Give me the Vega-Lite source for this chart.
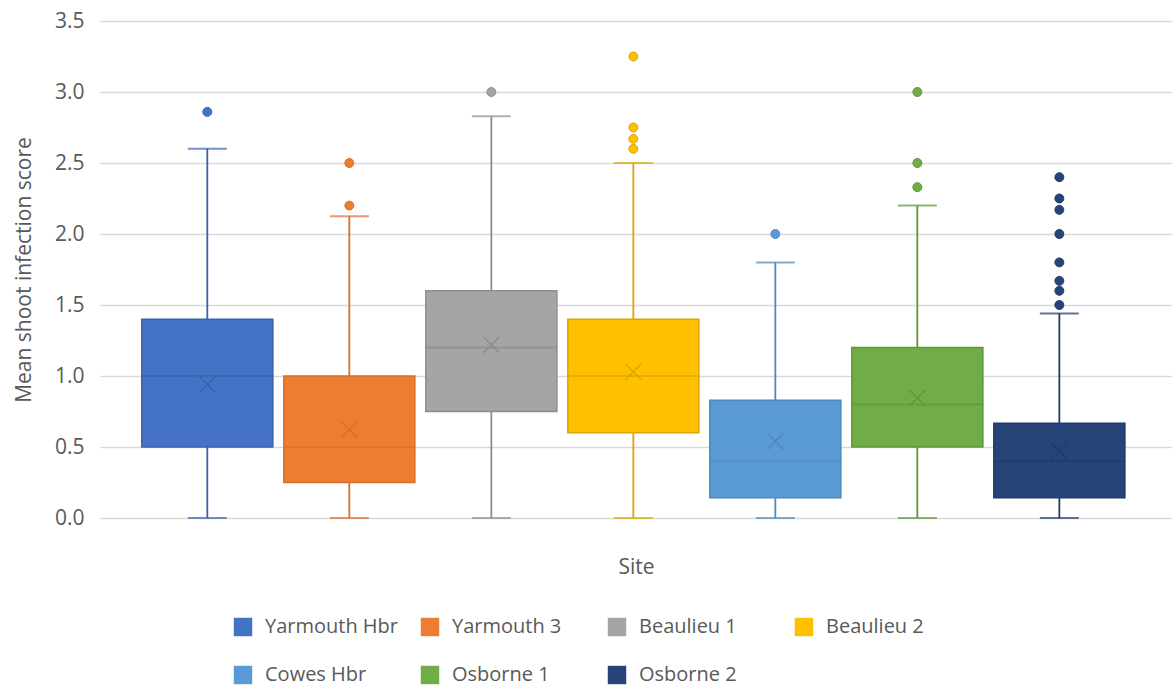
{
  "$schema": "https://vega.github.io/schema/vega-lite/v6.json",
  "width": 1072,
  "height": 497,
  "autosize": "none",
  "padding": {"left": 100, "top": 21, "right": 0, "bottom": 168},
  "background": "white",
  "config": {
    "font": "Open Sans",
    "view": {"stroke": null},
    "axis": {"labelColor": "#595959", "titleColor": "#595959", "titleFontWeight": "normal", "labelFont": "Open Sans", "titleFont": "Open Sans"},
    "legend": {"labelColor": "#595959", "labelFont": "Open Sans"}
  },
  "datasets": {
    "boxes": [
      {"site": "Yarmouth Hbr", "lo": 0, "q1": 0.5, "median": 1.0, "q3": 1.4, "hi": 2.6, "mean": 0.94},
      {"site": "Yarmouth 3", "lo": 0, "q1": 0.25, "median": 0.5, "q3": 1.0, "hi": 2.125, "mean": 0.62},
      {"site": "Beaulieu 1", "lo": 0, "q1": 0.75, "median": 1.2, "q3": 1.6, "hi": 2.83, "mean": 1.22},
      {"site": "Beaulieu 2", "lo": 0, "q1": 0.6, "median": 1.0, "q3": 1.4, "hi": 2.5, "mean": 1.03},
      {"site": "Cowes Hbr", "lo": 0, "q1": 0.143, "median": 0.4, "q3": 0.83, "hi": 1.8, "mean": 0.54},
      {"site": "Osborne 1", "lo": 0, "q1": 0.5, "median": 0.8, "q3": 1.2, "hi": 2.2, "mean": 0.845},
      {"site": "Osborne 2", "lo": 0, "q1": 0.143, "median": 0.4, "q3": 0.667, "hi": 1.44, "mean": 0.47}
    ],
    "outliers": [
      {"site": "Yarmouth Hbr", "score": 2.86},
      {"site": "Yarmouth 3", "score": 2.2},
      {"site": "Yarmouth 3", "score": 2.5},
      {"site": "Beaulieu 1", "score": 3.0},
      {"site": "Beaulieu 2", "score": 2.6},
      {"site": "Beaulieu 2", "score": 2.67},
      {"site": "Beaulieu 2", "score": 2.75},
      {"site": "Beaulieu 2", "score": 3.25},
      {"site": "Cowes Hbr", "score": 2.0},
      {"site": "Osborne 1", "score": 2.33},
      {"site": "Osborne 1", "score": 2.5},
      {"site": "Osborne 1", "score": 3.0},
      {"site": "Osborne 2", "score": 1.5},
      {"site": "Osborne 2", "score": 1.6},
      {"site": "Osborne 2", "score": 1.67},
      {"site": "Osborne 2", "score": 1.8},
      {"site": "Osborne 2", "score": 2.0},
      {"site": "Osborne 2", "score": 2.17},
      {"site": "Osborne 2", "score": 2.25},
      {"site": "Osborne 2", "score": 2.4}
    ]
  },
  "encoding": {
    "x": {
      "field": "site",
      "type": "nominal",
      "sort": ["Yarmouth Hbr", "Yarmouth 3", "Beaulieu 1", "Beaulieu 2", "Cowes Hbr", "Osborne 1", "Osborne 2"],
      "scale": {"paddingInner": 0.077, "paddingOuter": 0.313, "align": 0.47},
      "axis": {"title": "Site", "labels": false, "ticks": false, "domain": false, "titleFontSize": 21, "titlePadding": 38}
    }
  },
  "layer": [
    {
      "data": {"name": "boxes"},
      "mark": {"type": "rule", "strokeWidth": 1.8},
      "encoding": {
        "y": {
          "field": "lo",
          "type": "quantitative",
          "scale": {"domain": [0, 3.5], "nice": false},
          "axis": {
            "title": "Mean shoot infection score",
            "values": [0, 0.5, 1, 1.5, 2, 2.5, 3, 3.5],
            "format": ".1f",
            "labelFontSize": 21,
            "titleFontSize": 21,
            "titlePadding": 20,
            "labelPadding": 16,
            "ticks": false,
            "domain": false,
            "gridColor": "#d9d9d9",
            "gridWidth": 1.4
          }
        },
        "y2": {"field": "hi"},
        "color": {
          "field": "site",
          "type": "nominal",
          "legend": null,
          "scale": {
            "domain": ["Osborne 2", "Osborne 1", "Cowes Hbr", "Beaulieu 2", "Beaulieu 1", "Yarmouth 3", "Yarmouth Hbr"],
            "range": ["#203b6a", "#5f963b", "#4e89c0", "#dca600", "#8d8d8d", "#d96f2b", "#3862ae"]
          }
        }
      }
    },
    {
      "data": {"name": "boxes"},
      "mark": {"type": "tick", "size": 39, "thickness": 2},
      "encoding": {
        "y": {"field": "lo", "type": "quantitative"},
        "color": {"field": "site", "type": "nominal", "legend": null}
      }
    },
    {
      "data": {"name": "boxes"},
      "mark": {"type": "tick", "size": 39, "thickness": 2},
      "encoding": {
        "y": {"field": "hi", "type": "quantitative"},
        "color": {"field": "site", "type": "nominal", "legend": null}
      }
    },
    {
      "data": {"name": "boxes"},
      "mark": {"type": "bar"},
      "encoding": {
        "y": {"field": "q1", "type": "quantitative"},
        "y2": {"field": "q3"},
        "fill": {
          "field": "site",
          "type": "nominal",
          "scale": {
            "domain": ["Yarmouth Hbr", "Yarmouth 3", "Beaulieu 1", "Beaulieu 2", "Cowes Hbr", "Osborne 1", "Osborne 2"],
            "range": ["#4472c4", "#ed7d31", "#a5a5a5", "#ffc000", "#5b9bd5", "#70ad47", "#264478"]
          },
          "legend": {
            "title": null,
            "orient": "none",
            "legendX": 133,
            "legendY": 596,
            "direction": "horizontal",
            "columns": 4,
            "gridAlign": "all",
            "symbolType": "square",
            "symbolSize": 340,
            "symbolStrokeWidth": 0,
            "labelFontSize": 20,
            "labelOffset": 12,
            "columnPadding": 21,
            "rowPadding": 28,
            "labelLimit": 300
          }
        }
      }
    },
    {
      "data": {"name": "boxes"},
      "mark": {"type": "bar", "filled": false, "strokeWidth": 1.5},
      "encoding": {
        "y": {"field": "q1", "type": "quantitative"},
        "y2": {"field": "q3"},
        "color": {"field": "site", "type": "nominal", "legend": null}
      }
    },
    {
      "data": {"name": "boxes"},
      "mark": {"type": "tick", "size": 131, "thickness": 2},
      "encoding": {
        "y": {"field": "median", "type": "quantitative"},
        "color": {"field": "site", "type": "nominal", "legend": null}
      }
    },
    {
      "data": {"name": "boxes"},
      "mark": {"type": "point", "shape": "M-1,-1L1,1M1,-1L-1,1", "size": 256, "filled": false, "strokeWidth": 1.7, "opacity": 0.9},
      "encoding": {
        "y": {"field": "mean", "type": "quantitative"},
        "color": {"field": "site", "type": "nominal", "legend": null}
      }
    },
    {
      "data": {"name": "outliers"},
      "mark": {"type": "point", "shape": "circle", "filled": true, "size": 80, "strokeWidth": 0, "opacity": 1},
      "encoding": {
        "y": {"field": "score", "type": "quantitative"},
        "fill": {"field": "site", "type": "nominal"}
      }
    },
    {
      "data": {"name": "outliers"},
      "mark": {"type": "point", "shape": "circle", "filled": false, "size": 80, "strokeWidth": 1, "opacity": 1},
      "encoding": {
        "y": {"field": "score", "type": "quantitative"},
        "color": {"field": "site", "type": "nominal", "legend": null}
      }
    }
  ]
}
